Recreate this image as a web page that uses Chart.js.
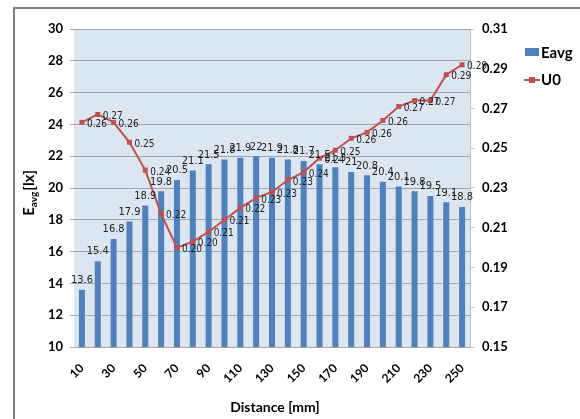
<!DOCTYPE html>
<html>
<head>
<meta charset="utf-8">
<script src="https://cdn.jsdelivr.net/npm/chart.js@4/dist/chart.umd.min.js"></script>
<style>
html,body{margin:0;padding:0;background:#fff;}
#wrap{width:580px;height:419px;}
</style>
</head>
<body>
<div id="wrap"><canvas id="c" width="580" height="419"></canvas></div>
<script>
const distances = ['10','20','30','40','50','60','70','80','90','100','110','120','130','140','150','160','170','180','190','200','210','220','230','240','250'];
const eavg = [13.6,15.4,16.8,17.9,18.9,19.8,20.5,21.1,21.5,21.8,21.9,22,21.9,21.8,21.7,21.5,21.3,21,20.8,20.4,20.1,19.8,19.5,19.1,18.8];
const u0 = [0.263,0.267,0.263,0.253,0.239,0.217,0.200,0.203,0.208,0.214,0.220,0.225,0.228,0.234,0.238,0.245,0.249,0.255,0.258,0.264,0.271,0.274,0.274,0.287,0.292];
const leftTitleMain = 'E', leftTitleSub = 'avg', leftTitleEnd = '[lx]';
const xTitle = 'Distance [mm]';
const legendNames = ['Eavg', 'U0'];

const BLUE = '#4f81bd', RED = '#c0504d', GRID = '#a6a6a6';
const BOLD = 'Lato, "Open Sans", sans-serif';
const LABF = '"Liberation Sans Narrow", "DejaVu Sans Condensed", sans-serif';

const decor = {
  id: 'decor',
  beforeDraw(chart) {
    const ctx = chart.ctx, a = chart.chartArea;
    ctx.save();
    ctx.fillStyle = '#fff';
    ctx.fillRect(0, 0, chart.width, chart.height);
    ctx.fillStyle = '#dce6f2';
    ctx.fillRect(a.left, a.top, a.right - a.left, a.bottom - a.top);
    ctx.restore();
  },
  afterDraw(chart) {
    const ctx = chart.ctx, a = chart.chartArea;
    ctx.save();
    // outer frame
    ctx.strokeStyle = '#808080';
    ctx.lineWidth = 2;
    ctx.strokeRect(14, 8, 700, 600);
    // data labels
    const mb = chart.getDatasetMeta(1);
    ctx.fillStyle = '#222';
    ctx.font = '11px ' + LABF;
    ctx.textAlign = 'center';
    ctx.textBaseline = 'bottom';
    mb.data.forEach((el, i) => {
      ctx.fillText(String(eavg[i]), el.x, el.y - 4);
    });
    const ml = chart.getDatasetMeta(0);
    ctx.font = '10px ' + LABF;
    ctx.textAlign = 'left';
    ctx.textBaseline = 'middle';
    ml.data.forEach((el, i) => {
      ctx.fillText(u0[i].toFixed(2), el.x + 5, el.y + 2);
    });
    // left title
    ctx.fillStyle = '#000';
    ctx.translate(29, 193);
    ctx.rotate(-Math.PI / 2);
    ctx.textBaseline = 'middle';
    ctx.font = 'bold 15px ' + BOLD;
    const wE = ctx.measureText(leftTitleMain).width;
    ctx.font = 'bold 10px ' + BOLD;
    const wS = ctx.measureText(leftTitleSub).width;
    ctx.font = 'bold 15px ' + BOLD;
    const wEnd = ctx.measureText(leftTitleEnd).width;
    let x0 = -(wE + wS + wEnd + 1) / 2;
    ctx.textAlign = 'left';
    ctx.fillText(leftTitleMain, x0, 0);
    ctx.font = 'bold 10px ' + BOLD;
    ctx.fillText(leftTitleSub, x0 + wE, 5);
    ctx.font = 'bold 15px ' + BOLD;
    ctx.fillText(leftTitleEnd, x0 + wE + wS + 1, 0);
    ctx.setTransform(1, 0, 0, 1, 0, 0);
    // x title
    ctx.font = 'bold 14px ' + BOLD;
    ctx.textAlign = 'center';
    ctx.textBaseline = 'middle';
    ctx.fillText(xTitle, 275, 407);
    // legend
    ctx.fillStyle = BLUE;
    ctx.fillRect(525, 48, 14, 8);
    ctx.strokeStyle = RED;
    ctx.lineWidth = 2;
    ctx.beginPath();
    ctx.moveTo(524, 80);
    ctx.lineTo(540, 80);
    ctx.stroke();
    ctx.fillStyle = RED;
    ctx.fillRect(529, 77, 6, 6);
    ctx.fillStyle = '#000';
    ctx.font = 'bold 15px ' + BOLD;
    ctx.textAlign = 'left';
    ctx.fillText(legendNames[0], 541, 53);
    ctx.fillText(legendNames[1], 541, 80);
    ctx.restore();
  }
};

new Chart(document.getElementById('c'), {
  type: 'bar',
  data: {
    labels: distances,
    datasets: [
      {
        type: 'line', label: legendNames[1], data: u0, yAxisID: 'y1',
        borderColor: RED, backgroundColor: RED, borderWidth: 2,
        pointStyle: 'rect', pointRadius: 3.5, pointBorderWidth: 0,
        tension: 0, order: 0
      },
      {
        type: 'bar', label: legendNames[0], data: eavg, yAxisID: 'y',
        backgroundColor: BLUE, borderWidth: 0,
        barPercentage: 0.38, categoryPercentage: 1, order: 1
      }
    ]
  },
  options: {
    responsive: false,
    animation: false,
    layout: { padding: { left: 0, top: 29, right: 65, bottom: 0 } },
    plugins: { legend: { display: false }, tooltip: { enabled: false } },
    scales: {
      x: {
        grid: { display: false },
        border: { display: false },
        ticks: {
          autoSkip: false, minRotation: 45, maxRotation: 45, padding: 6,
          color: '#000', font: { family: BOLD, size: 12, weight: 'bold' },
          callback: (v, i) => (i % 2 === 0 ? distances[i] : '')
        },
        afterFit: (s) => { s.height = 72; }
      },
      y: {
        position: 'left', min: 10, max: 30,
        ticks: { stepSize: 2, padding: 7, color: '#000', font: { family: BOLD, size: 13, weight: 'bold' } },
        grid: { color: GRID, tickLength: 4, lineWidth: 1 },
        border: { display: false },
        afterFit: (s) => { s.width = 74; }
      },
      y1: {
        position: 'right', min: 0.15, max: 0.31,
        ticks: { stepSize: 0.02, padding: 8, color: '#000', font: { family: BOLD, size: 13, weight: 'bold' },
          callback: (v) => Number(v).toFixed(2) },
        grid: { drawOnChartArea: false, color: '#bfbfbf', tickLength: 4 },
        border: { display: true, color: '#bfbfbf' },
        afterFit: (s) => { s.width = 45; }
      }
    }
  },
  plugins: [decor]
});
</script>
</body>
</html>
